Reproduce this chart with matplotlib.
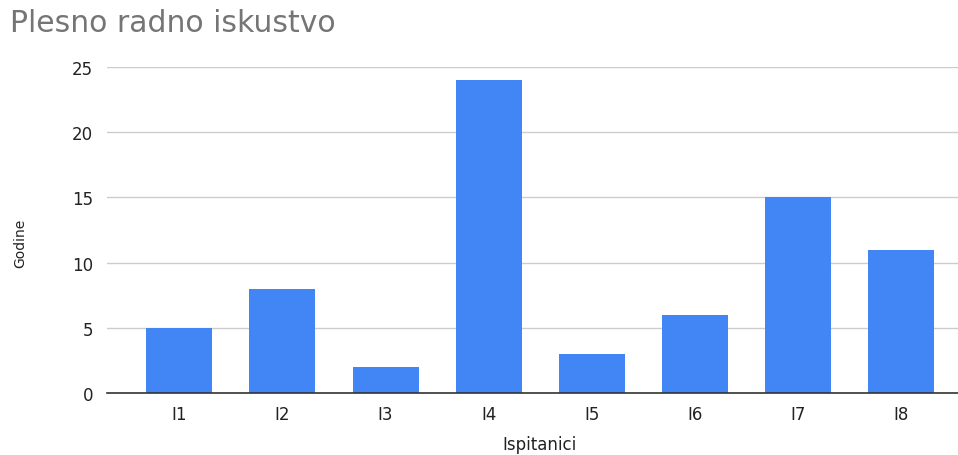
import matplotlib.pyplot as plt

categories = ['I1', 'I2', 'I3', 'I4', 'I5', 'I6', 'I7', 'I8']
years = [5, 8, 2, 24, 3, 6, 15, 11]
yticks = [0, 5, 10, 15, 20, 25]

plt.rcParams['font.family'] = ['DejaVu Sans']

fig = plt.figure(figsize=(9.58, 4.56), dpi=100)
ax = fig.add_axes([107/958, 62/456, 851/958, 326/456])

x = range(len(categories))
ax.bar(x, years, width=0.64, color='#4285F4', zorder=3)

ax.set_xlim(-0.70, 7.55)
ax.set_ylim(0, 25)
ax.set_yticks(yticks)
ax.set_xticks(list(x))
ax.set_xticklabels(categories)
ax.grid(axis='y', color='#cccccc', linewidth=1, zorder=0)
ax.tick_params(axis='both', length=0, labelsize=12, labelcolor='#222222')
ax.tick_params(axis='y', pad=10)
ax.tick_params(axis='x', pad=9)

for side in ['top', 'right', 'left']:
    ax.spines[side].set_visible(False)
ax.spines['bottom'].set_color('#333333')
ax.spines['bottom'].set_linewidth(1.2)
ax.spines['bottom'].set_zorder(4)

fig.text(10/958, 1 - 32/456, 'Plesno radno iskustvo', fontsize=21.5,
         color='#757575', ha='left', va='baseline')
fig.text(20/958, 1 - 243/456, 'Godine', fontsize=10, color='#222222',
         rotation=90, ha='center', va='center')
fig.text(540/958, 1 - 445/456, 'Ispitanici', fontsize=12, color='#222222',
         ha='center', va='center')

fig.savefig('out.png', dpi=100)
